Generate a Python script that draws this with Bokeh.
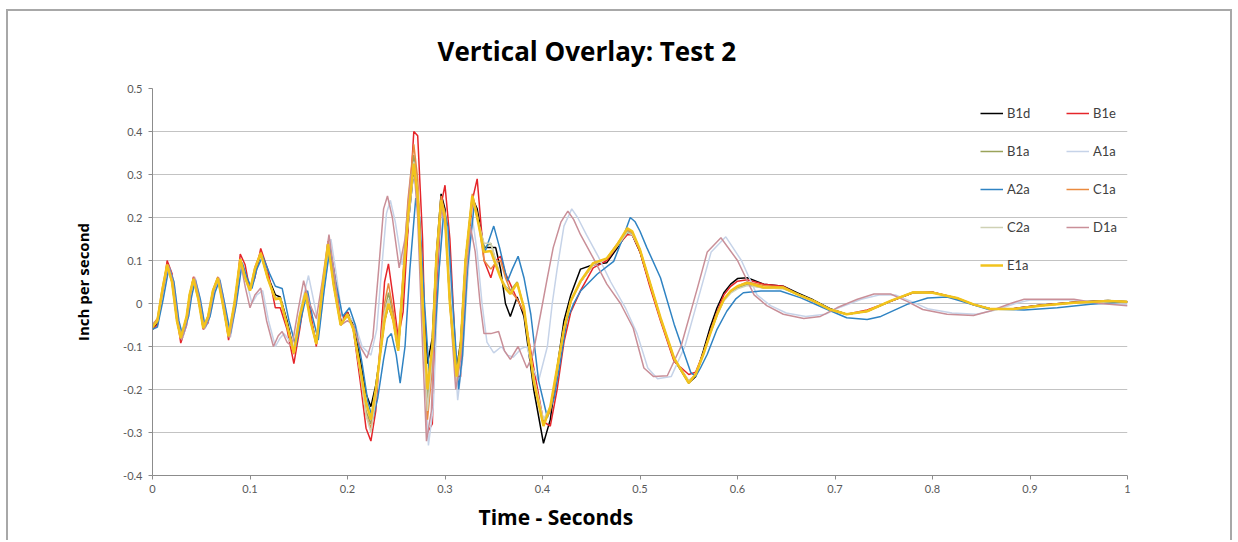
from bokeh.plotting import figure
from bokeh.models import (Range1d, FixedTicker, NumeralTickFormatter, Legend,
                          LegendItem, Title)
from bokeh.embed import file_html
from bokeh.resources import INLINE

# ---------------- data ----------------
# shared time grid for the series that move together
T = [0.000, 0.005, 0.010, 0.015, 0.020, 0.025, 0.029, 0.035, 0.038, 0.042,
     0.047, 0.052, 0.057, 0.062, 0.067, 0.072, 0.078, 0.084, 0.090, 0.095,
     0.100, 0.105, 0.111, 0.118, 0.126, 0.131, 0.138, 0.145, 0.151, 0.157,
     0.162, 0.168, 0.174, 0.180, 0.186, 0.193, 0.200, 0.206, 0.213, 0.219,
     0.224, 0.229, 0.234, 0.238, 0.242, 0.247, 0.252, 0.257, 0.262, 0.268,
     0.272, 0.277, 0.282, 0.287, 0.291, 0.296, 0.300, 0.305, 0.312, 0.316,
     0.321, 0.328, 0.333, 0.340, 0.347, 0.352, 0.357, 0.362, 0.367, 0.374,
     0.381, 0.391, 0.401, 0.408, 0.415, 0.422, 0.429, 0.439, 0.452, 0.466,
     0.477, 0.487, 0.492, 0.500, 0.510, 0.521, 0.535, 0.550, 0.557, 0.565,
     0.572, 0.579, 0.586, 0.593, 0.600, 0.610, 0.627, 0.647, 0.661, 0.678,
     0.695, 0.712, 0.733, 0.757, 0.780, 0.800, 0.825, 0.842, 0.860, 0.883,
     0.910, 0.945, 0.980, 1.000]

B1D = [-0.060, -0.045, 0.025, 0.088, 0.055, -0.035, -0.080, -0.035, 0.015, 0.055,
       0.015, -0.055, -0.035, 0.025, 0.060, 0.010, -0.075, -0.010, 0.100, 0.065,
       0.030, 0.070, 0.115, 0.065, 0.020, 0.015, -0.040, -0.110, -0.035, 0.030,
       -0.035, -0.090, 0.020, 0.135, 0.050, -0.045, -0.020, -0.050, -0.130, -0.210,
       -0.240, -0.190, -0.110, -0.040, -0.005, -0.040, -0.110, 0.040, 0.180, 0.310,
       0.260, 0.050, -0.140, -0.080, 0.110, 0.255, 0.220, 0.020, -0.150, -0.090,
       0.100, 0.245, 0.220, 0.130, 0.130, 0.130, 0.080, 0.000, -0.030, 0.015,
       -0.030, -0.200, -0.325, -0.270, -0.150, -0.040, 0.020, 0.080, 0.090, 0.095,
       0.130, 0.165, 0.160, 0.120, 0.045, -0.035, -0.130, -0.185, -0.170, -0.110,
       -0.055, -0.010, 0.025, 0.045, 0.058, 0.060, 0.045, 0.040, 0.025, 0.008,
       -0.012, -0.025, -0.018, 0.005, 0.025, 0.026, 0.012, -0.002, -0.013, -0.012,
       -0.004, 0.003, 0.007, 0.004]

B1E = [-0.060, -0.050, 0.010, 0.100, 0.070, -0.030, -0.092, -0.050, 0.010, 0.062,
       0.025, -0.060, -0.045, 0.020, 0.060, 0.020, -0.085, -0.020, 0.115, 0.090,
       0.030, 0.060, 0.128, 0.080, -0.010, -0.010, -0.060, -0.140, -0.060, 0.030,
       -0.020, -0.100, 0.000, 0.145, 0.080, -0.040, -0.020, -0.060, -0.180, -0.290,
       -0.320, -0.250, -0.080, 0.050, 0.092, 0.010, -0.080, -0.020, 0.170, 0.400,
       0.390, 0.150, -0.300, -0.280, 0.000, 0.230, 0.275, 0.150, -0.170, -0.170,
       0.000, 0.240, 0.290, 0.100, 0.060, 0.100, 0.110, 0.070, 0.045, 0.010,
       -0.020, -0.150, -0.275, -0.285, -0.200, -0.090, -0.020, 0.030, 0.083, 0.100,
       0.135, 0.160, 0.160, 0.120, 0.040, -0.040, -0.135, -0.165, -0.160, -0.115,
       -0.065, -0.020, 0.020, 0.040, 0.052, 0.055, 0.045, 0.040, 0.022, 0.005,
       -0.015, -0.025, -0.015, 0.005, 0.025, 0.026, 0.012, -0.003, -0.013, -0.012,
       -0.004, 0.003, 0.006, 0.004]

B1A = [-0.055, -0.040, 0.030, 0.090, 0.050, -0.040, -0.080, -0.030, 0.020, 0.057,
       0.010, -0.057, -0.030, 0.030, 0.060, 0.000, -0.078, 0.000, 0.103, 0.060,
       0.030, 0.080, 0.117, 0.060, 0.012, 0.012, -0.050, -0.115, -0.030, 0.026,
       -0.040, -0.094, 0.030, 0.140, 0.040, -0.050, -0.025, -0.060, -0.160, -0.250,
       -0.280, -0.210, -0.100, -0.020, 0.025, -0.030, -0.100, 0.060, 0.220, 0.345,
       0.270, 0.010, -0.220, -0.120, 0.100, 0.240, 0.200, 0.000, -0.180, -0.110,
       0.100, 0.250, 0.200, 0.130, 0.140, 0.100, 0.060, 0.040, 0.030, 0.050,
       -0.010, -0.180, -0.280, -0.245, -0.150, -0.060, 0.005, 0.050, 0.090, 0.105,
       0.138, 0.170, 0.165, 0.125, 0.050, -0.033, -0.127, -0.182, -0.165, -0.118,
       -0.070, -0.028, 0.008, 0.026, 0.036, 0.044, 0.036, 0.035, 0.022, 0.006,
       -0.014, -0.025, -0.018, 0.006, 0.026, 0.025, 0.013, -0.002, -0.013, -0.013,
       -0.005, 0.002, 0.006, 0.004]

C1A = [-0.050, -0.035, 0.035, 0.092, 0.048, -0.040, -0.082, -0.030, 0.020, 0.060,
       0.010, -0.058, -0.030, 0.032, 0.062, 0.000, -0.078, 0.000, 0.105, 0.060,
       0.030, 0.085, 0.120, 0.060, 0.010, 0.010, -0.050, -0.118, -0.030, 0.028,
       -0.040, -0.095, 0.030, 0.145, 0.040, -0.050, -0.025, -0.060, -0.160, -0.260,
       -0.290, -0.220, -0.090, 0.000, 0.047, -0.020, -0.090, 0.070, 0.240, 0.370,
       0.290, 0.020, -0.270, -0.150, 0.100, 0.250, 0.210, 0.000, -0.180, -0.110,
       0.100, 0.255, 0.210, 0.100, 0.080, 0.095, 0.100, 0.060, 0.030, 0.010,
       -0.020, -0.170, -0.280, -0.250, -0.160, -0.060, 0.005, 0.050, 0.090, 0.105,
       0.140, 0.172, 0.165, 0.125, 0.050, -0.035, -0.130, -0.180, -0.165, -0.118,
       -0.070, -0.025, 0.010, 0.028, 0.040, 0.050, 0.042, 0.038, 0.022, 0.006,
       -0.014, -0.025, -0.018, 0.006, 0.026, 0.026, 0.013, -0.002, -0.013, -0.013,
       -0.005, 0.002, 0.006, 0.004]

C2A = [-0.055, -0.040, 0.028, 0.088, 0.050, -0.040, -0.080, -0.030, 0.020, 0.055,
       0.010, -0.056, -0.030, 0.030, 0.058, 0.000, -0.076, 0.000, 0.100, 0.060,
       0.030, 0.080, 0.115, 0.060, 0.010, 0.012, -0.050, -0.112, -0.030, 0.024,
       -0.040, -0.092, 0.030, 0.135, 0.040, -0.050, -0.025, -0.060, -0.160, -0.260,
       -0.300, -0.220, -0.100, -0.020, 0.010, -0.040, -0.110, 0.050, 0.210, 0.330,
       0.260, 0.000, -0.250, -0.120, 0.100, 0.230, 0.200, 0.000, -0.180, -0.110,
       0.100, 0.245, 0.200, 0.140, 0.140, 0.100, 0.060, 0.040, 0.025, 0.045,
       -0.010, -0.170, -0.270, -0.240, -0.150, -0.060, 0.005, 0.050, 0.090, 0.105,
       0.135, 0.165, 0.160, 0.125, 0.050, -0.033, -0.127, -0.180, -0.165, -0.118,
       -0.070, -0.028, 0.006, 0.024, 0.034, 0.042, 0.036, 0.035, 0.022, 0.006,
       -0.014, -0.025, -0.018, 0.006, 0.026, 0.025, 0.013, -0.002, -0.013, -0.013,
       -0.005, 0.002, 0.006, 0.004]

E1A = [-0.055, -0.040, 0.030, 0.090, 0.050, -0.040, -0.080, -0.030, 0.020, 0.057,
       0.010, -0.057, -0.030, 0.030, 0.059, 0.000, -0.076, 0.000, 0.103, 0.060,
       0.030, 0.080, 0.117, 0.060, 0.010, 0.012, -0.050, -0.115, -0.030, 0.024,
       -0.040, -0.094, 0.030, 0.138, 0.040, -0.050, -0.025, -0.060, -0.150, -0.230,
       -0.270, -0.200, -0.110, -0.040, 0.000, -0.040, -0.110, 0.050, 0.200, 0.325,
       0.250, 0.000, -0.200, -0.100, 0.100, 0.240, 0.200, 0.000, -0.170, -0.100,
       0.100, 0.250, 0.200, 0.120, 0.122, 0.090, 0.060, 0.035, 0.022, 0.048,
       -0.010, -0.180, -0.285, -0.240, -0.150, -0.060, 0.006, 0.052, 0.094, 0.105,
       0.138, 0.175, 0.168, 0.125, 0.050, -0.033, -0.127, -0.185, -0.165, -0.118,
       -0.070, -0.025, 0.010, 0.029, 0.040, 0.048, 0.037, 0.037, 0.022, 0.006,
       -0.014, -0.025, -0.018, 0.006, 0.026, 0.025, 0.013, -0.002, -0.013, -0.013,
       -0.005, 0.002, 0.006, 0.004]

# series with their own time points: (time, value)
A2A = [(0.000, -0.060), (0.005, -0.055), (0.011, 0.010), (0.017, 0.085), (0.022, 0.050),
       (0.027, -0.040), (0.031, -0.075), (0.037, -0.030), (0.040, 0.015), (0.044, 0.055),
       (0.049, 0.010), (0.054, -0.055), (0.059, -0.030), (0.064, 0.025), (0.069, 0.055),
       (0.074, 0.000), (0.080, -0.070), (0.086, 0.000), (0.092, 0.095), (0.097, 0.060),
       (0.102, 0.035), (0.107, 0.080), (0.113, 0.110), (0.120, 0.070), (0.126, 0.040),
       (0.133, 0.035), (0.140, -0.040), (0.147, -0.100), (0.153, -0.030), (0.159, 0.030),
       (0.164, -0.030), (0.170, -0.085), (0.176, 0.030), (0.182, 0.130), (0.188, 0.050),
       (0.195, -0.030), (0.202, -0.010), (0.208, -0.050), (0.215, -0.140), (0.221, -0.230),
       (0.226, -0.270), (0.231, -0.220), (0.237, -0.130), (0.241, -0.080), (0.245, -0.070),
       (0.250, -0.120), (0.254, -0.185), (0.259, -0.100), (0.264, 0.080), (0.270, 0.245),
       (0.274, 0.200), (0.279, 0.000), (0.284, -0.170), (0.289, -0.100), (0.294, 0.080),
       (0.299, 0.220), (0.303, 0.180), (0.308, 0.000), (0.314, -0.200), (0.318, -0.120),
       (0.323, 0.080), (0.330, 0.230), (0.335, 0.180), (0.341, 0.120), (0.350, 0.180),
       (0.356, 0.130), (0.364, 0.052), (0.369, 0.080), (0.375, 0.110), (0.381, 0.060),
       (0.388, -0.025), (0.396, -0.180), (0.405, -0.265), (0.412, -0.220), (0.418, -0.140),
       (0.425, -0.040), (0.432, 0.000), (0.439, 0.029), (0.456, 0.068), (0.473, 0.098),
       (0.482, 0.150), (0.490, 0.200), (0.495, 0.190), (0.500, 0.168), (0.507, 0.130),
       (0.521, 0.060), (0.535, -0.048), (0.552, -0.160), (0.557, -0.170), (0.562, -0.150),
       (0.569, -0.118), (0.579, -0.060), (0.589, -0.018), (0.598, 0.010), (0.606, 0.025),
       (0.624, 0.029), (0.644, 0.029), (0.665, 0.013), (0.688, -0.010), (0.712, -0.033),
       (0.733, -0.037), (0.747, -0.030), (0.774, -0.002), (0.795, 0.013), (0.815, 0.015),
       (0.829, 0.006), (0.856, -0.013), (0.894, -0.015), (0.928, -0.010), (0.962, -0.002),
       (1.000, 0.004)]

D1A = [(0.000, -0.050), (0.005, -0.040), (0.010, 0.020), (0.016, 0.090), (0.021, 0.050),
       (0.026, -0.040), (0.030, -0.085), (0.036, -0.030), (0.039, 0.020), (0.043, 0.062),
       (0.048, 0.010), (0.053, -0.060), (0.058, -0.030), (0.063, 0.030), (0.068, 0.060),
       (0.073, 0.000), (0.079, -0.080), (0.085, 0.000), (0.090, 0.100), (0.095, 0.040),
       (0.100, -0.010), (0.105, 0.020), (0.111, 0.036), (0.117, -0.040), (0.124, -0.100),
       (0.129, -0.075), (0.133, -0.065), (0.138, -0.090), (0.143, -0.100), (0.149, -0.020),
       (0.155, 0.053), (0.161, 0.000), (0.168, -0.035), (0.174, 0.050), (0.181, 0.160),
       (0.187, 0.060), (0.193, -0.050), (0.200, -0.040), (0.206, -0.050), (0.213, -0.100),
       (0.220, -0.127), (0.226, -0.080), (0.232, 0.080), (0.237, 0.220), (0.241, 0.250),
       (0.246, 0.200), (0.253, 0.083), (0.259, 0.150), (0.265, 0.300), (0.268, 0.320),
       (0.272, 0.200), (0.277, -0.100), (0.281, -0.320), (0.286, -0.250), (0.291, 0.050),
       (0.296, 0.220), (0.300, 0.190), (0.305, 0.000), (0.311, -0.200), (0.316, -0.130),
       (0.321, 0.050), (0.326, 0.180), (0.331, 0.120), (0.336, 0.000), (0.340, -0.070),
       (0.347, -0.070), (0.355, -0.065), (0.361, -0.110), (0.367, -0.130), (0.375, -0.100),
       (0.384, -0.150), (0.390, -0.120), (0.398, -0.025), (0.405, 0.060), (0.411, 0.130),
       (0.419, 0.190), (0.426, 0.215), (0.432, 0.195), (0.439, 0.160), (0.452, 0.106),
       (0.466, 0.045), (0.480, 0.000), (0.493, -0.057), (0.504, -0.150), (0.514, -0.170),
       (0.528, -0.168), (0.542, -0.100), (0.559, 0.037), (0.569, 0.120), (0.583, 0.153),
       (0.600, 0.100), (0.617, 0.020), (0.630, -0.005), (0.647, -0.025), (0.668, -0.035),
       (0.685, -0.030), (0.702, -0.010), (0.723, 0.010), (0.740, 0.022), (0.757, 0.022),
       (0.774, 0.005), (0.790, -0.014), (0.815, -0.025), (0.842, -0.028), (0.860, -0.017),
       (0.880, 0.000), (0.894, 0.010), (0.945, 0.010), (0.972, 0.000), (1.000, -0.005)]

A1A = [(0.000, -0.045), (0.005, -0.040), (0.011, 0.020), (0.017, 0.085), (0.022, 0.050),
       (0.027, -0.040), (0.031, -0.080), (0.037, -0.030), (0.040, 0.020), (0.044, 0.058),
       (0.049, 0.010), (0.054, -0.058), (0.059, -0.030), (0.064, 0.030), (0.069, 0.058),
       (0.074, 0.000), (0.080, -0.078), (0.086, 0.000), (0.092, 0.095), (0.097, 0.045),
       (0.102, 0.000), (0.107, 0.020), (0.113, 0.030), (0.119, -0.040), (0.126, -0.100),
       (0.131, -0.080), (0.135, -0.070), (0.140, -0.085), (0.145, -0.100), (0.152, -0.010),
       (0.160, 0.065), (0.165, 0.010), (0.171, -0.060), (0.177, 0.050), (0.183, 0.150),
       (0.189, 0.060), (0.195, -0.040), (0.202, -0.030), (0.208, -0.050), (0.215, -0.100),
       (0.224, -0.120), (0.230, -0.060), (0.235, 0.080), (0.240, 0.210), (0.244, 0.240),
       (0.249, 0.190), (0.256, 0.090), (0.262, 0.180), (0.267, 0.290), (0.270, 0.300),
       (0.274, 0.180), (0.279, -0.120), (0.283, -0.330), (0.288, -0.240), (0.293, 0.050),
       (0.298, 0.210), (0.302, 0.170), (0.307, 0.000), (0.313, -0.225), (0.318, -0.130),
       (0.323, 0.050), (0.328, 0.200), (0.333, 0.120), (0.338, 0.000), (0.343, -0.090),
       (0.350, -0.115), (0.358, -0.100), (0.364, -0.120), (0.370, -0.125), (0.378, -0.105),
       (0.384, -0.100), (0.390, -0.150), (0.396, -0.180), (0.405, -0.100), (0.410, 0.000),
       (0.415, 0.080), (0.422, 0.180), (0.430, 0.220), (0.436, 0.200), (0.445, 0.160),
       (0.457, 0.110), (0.470, 0.050), (0.485, -0.010), (0.497, -0.070), (0.508, -0.150),
       (0.518, -0.175), (0.532, -0.170), (0.546, -0.100), (0.562, 0.030), (0.573, 0.120),
       (0.588, 0.155), (0.604, 0.100), (0.620, 0.020), (0.634, -0.005), (0.650, -0.022),
       (0.670, -0.030), (0.690, -0.025), (0.706, -0.008), (0.727, 0.010), (0.745, 0.020),
       (0.762, 0.020), (0.778, 0.005), (0.795, -0.012), (0.820, -0.022), (0.845, -0.025),
       (0.865, -0.015), (0.885, 0.000), (0.900, 0.008), (0.945, 0.008), (0.975, 0.000),
       (1.000, -0.003)]

X_TICKS = [0, 0.1, 0.2, 0.3, 0.4, 0.5, 0.6, 0.7, 0.8, 0.9, 1]
Y_TICKS = [-0.4, -0.3, -0.2, -0.1, 0, 0.1, 0.2, 0.3, 0.4, 0.5]

TITLE = "Vertical Overlay: Test 2"
X_LABEL = "Time - Seconds"
Y_LABEL = "Inch per second"


def split(pairs):
    return [a for a, _ in pairs], [b for _, b in pairs]


SERIES = {
    "B1d": (T, B1D),
    "B1e": (T, B1E),
    "B1a": (T, B1A),
    "A1a": split(A1A),
    "A2a": split(A2A),
    "C1a": (T, C1A),
    "C2a": (T, C2A),
    "D1a": split(D1A),
    "E1a": (T, E1A),
}

# ---------------- styles ----------------
STYLE = {
    "B1d": ("#000000", 1.5),
    "B1e": ("#e5252a", 1.5),
    "B1a": ("#9aa35a", 1.5),
    "A1a": ("#c6d3e8", 1.5),
    "A2a": ("#2f83c3", 1.5),
    "C1a": ("#ea8a3e", 1.5),
    "C2a": ("#cfd1b4", 1.5),
    "D1a": ("#c98f98", 1.5),
    "E1a": ("#f2c31c", 2.5),
}
FONT = "Lato"
HEAD_FONT = "Open Sans"
BORDER = "2px solid #a8a8a8"

p = figure(width=1226, height=531, output_backend="svg", toolbar_location=None,
           x_range=Range1d(0, 1), y_range=Range1d(-0.4, 0.5),
           min_border_left=144, min_border_right=107,
           min_border_top=76, min_border_bottom=67)
p.styles = {"margin-left": "6px", "margin-top": "9px",
            "border-top": BORDER, "border-left": BORDER, "border-right": BORDER}
p.outline_line_color = None
p.background_fill_color = "white"
p.border_fill_color = "white"

p.title.text = TITLE
p.title.align = "left"
p.title.offset = 285
p.title.standoff = 39
p.title.text_font = HEAD_FONT
p.title.text_font_size = "26px"
p.title.text_font_style = "bold"
p.title.text_color = "#000000"

p.xgrid.visible = False
p.ygrid.ticker = FixedTicker(ticks=Y_TICKS)
p.ygrid.grid_line_color = "#c3c3c3"
p.ygrid.grid_line_width = 1

for ax, ticks in ((p.xaxis[0], X_TICKS), (p.yaxis[0], Y_TICKS)):
    ax.ticker = FixedTicker(ticks=ticks)
    ax.formatter = NumeralTickFormatter(format="0.[0]")
    ax.axis_line_color = "#8c8c8c"
    ax.major_tick_line_color = "#8c8c8c"
    ax.major_tick_out = 4
    ax.major_tick_in = 0
    ax.minor_tick_out = 0
    ax.minor_tick_in = 0
    ax.major_label_text_font = FONT
    ax.major_label_text_font_size = "11px"
    ax.major_label_text_color = "#595959"
p.yaxis.major_label_standoff = 6
p.xaxis.major_label_standoff = 5

p.yaxis.axis_label = Y_LABEL
p.yaxis.axis_label_text_font = HEAD_FONT
p.yaxis.axis_label_text_font_size = "15px"
p.yaxis.axis_label_text_font_style = "bold"
p.yaxis.axis_label_text_color = "#000000"
p.yaxis.axis_label_standoff = 27

p.add_layout(Title(text=X_LABEL, align="left", offset=326, standoff=10,
                   text_font=HEAD_FONT, text_font_size="21px", text_font_style="bold",
                   text_color="#000000"), "below")

renderers = {}
for name, (xs, ys) in SERIES.items():
    color, lw = STYLE[name]
    renderers[name] = p.line(xs, ys, line_color=color, line_width=lw)

common = dict(padding=0, margin=0, border_line_color=None, background_fill_alpha=0,
              label_text_font=FONT, label_text_font_size="13px",
              label_text_color="#404040", glyph_width=23, glyph_height=20,
              label_height=20, label_standoff=4, spacing=18)
left_names = ["B1d", "B1a", "A2a", "C2a", "E1a"]
right_names = ["B1e", "A1a", "C1a", "D1a"]
leg1 = Legend(items=[LegendItem(label=n, renderers=[renderers[n]]) for n in left_names],
              location=(828, 200), **common)
leg2 = Legend(items=[LegendItem(label=n, renderers=[renderers[n]]) for n in right_names],
              location=(914, 238), **common)
p.add_layout(leg1)
p.add_layout(leg2)

open("out.html", "w").write(file_html(p, INLINE))
